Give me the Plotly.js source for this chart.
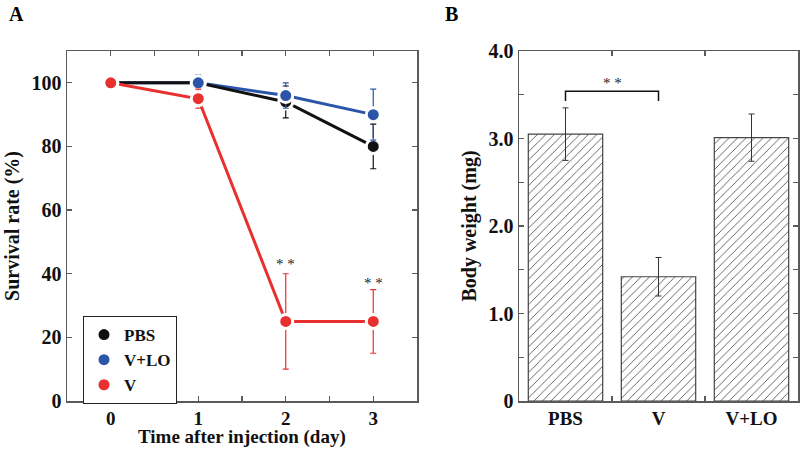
<!DOCTYPE html>
<html>
<head>
<meta charset="utf-8">
<script src="https://cdn.plot.ly/plotly-3.0.1.min.js"></script>
<style>html,body{margin:0;padding:0;background:#fff;}#chart{width:800px;height:449px;}</style>
</head>
<body>
<div id="chart"></div>
<script>
// ---- Panel A data: survival rate (%) ----
const days = [0, 1, 2, 3];
const pbsSurvival = [100, 100, 94, 80];
const pbsErr = [0, 0, 5, 7];
const vloSurvival = [100, 100, 96, 90];
const vloErr = [0, 2.5, 4, 8];
const vSurvival = [100, 95, 25, 25];
const vErr = [0, 3, 15, 10];
const dayTickVals = [0, 0.5, 1, 1.5, 2, 2.5, 3];
const dayTickText = ['0', '', '1', '', '2', '', '3'];
const survTickVals = [0, 20, 40, 60, 80, 100];
const sigDays = [2, 3];
const sigY = [43, 37];
const sigText = ['* *', '* *'];

// ---- Panel B data: body weight (mg) ----
const groups = ['PBS', 'V', 'V+LO'];
const bodyWeight = [3.05, 1.42, 3.01];
const bodyWeightErr = [0.3, 0.22, 0.27];
const weightTickVals = [0, 0.5, 1, 1.5, 2, 2.5, 3, 3.5, 4];
const weightTickText = ['0', '', '1.0', '', '2.0', '', '3.0', '', '4.0'];
const bracketX = ['PBS', 'PBS', 'V', 'V'];
const bracketY = [3.43, 3.54, 3.54, 3.43];
const bracketLabelY = 3.63;

const RED = '#e8312f', BLUE = '#2a55a8', BLACK = '#111111';
const SERIF = 'Liberation Serif, Times New Roman, serif';
const AX = '#5a5a5a';
const titleFont = {family: SERIF, size: 20, color: '#111', weight: 'bold'};

function lineTrace(y, color) {
  return {x: days, y: y, xaxis: 'x', yaxis: 'y', mode: 'lines', showlegend: false,
    line: {color: color, width: 3}, hoverinfo: 'skip'};
}
function markerTrace(name, y, err, color) {
  return {x: days, y: y, xaxis: 'x', yaxis: 'y', mode: 'markers', name: name,
    marker: {color: color, size: 14, line: {color: '#ffffff', width: 3}},
    error_y: {type: 'data', array: err, visible: true, color: color, thickness: 1.2, width: 3}};
}

const traces = [
  lineTrace(vloSurvival, BLUE),
  lineTrace(pbsSurvival, BLACK),
  lineTrace(vSurvival, RED),
  markerTrace('PBS', pbsSurvival, pbsErr, BLACK),
  markerTrace('V+LO', vloSurvival, vloErr, BLUE),
  markerTrace('V', vSurvival, vErr, RED),
  {x: groups, y: bodyWeight, type: 'bar', xaxis: 'x2', yaxis: 'y2', showlegend: false, width: 0.8,
    marker: {color: '#ffffff', line: {color: '#444444', width: 1.2},
      pattern: {shape: '/', fgcolor: '#4a4a4a', bgcolor: '#ffffff', size: 6, solidity: 0.14}},
    error_y: {type: 'data', array: bodyWeightErr, visible: true, color: '#333333', thickness: 1, width: 3}},
  {x: bracketX, y: bracketY, xaxis: 'x2', yaxis: 'y2', mode: 'lines', showlegend: false,
    line: {color: '#111111', width: 1.5}, hoverinfo: 'skip'}
];

const annotations = [
  {text: '<b>A</b>', xref: 'paper', yref: 'paper', x: 16/800, y: 1 - 1/449, showarrow: false,
    font: {family: SERIF, size: 20, color: '#000'}, xanchor: 'center', yanchor: 'top'},
  {text: '<b>B</b>', xref: 'paper', yref: 'paper', x: 451/800, y: 1 - 1/449, showarrow: false,
    font: {family: SERIF, size: 20, color: '#000'}, xanchor: 'center', yanchor: 'top'},
  {text: 'Time after injection (day)', xref: 'paper', yref: 'paper', x: 242/800, y: 0,
    showarrow: false, xanchor: 'center', yanchor: 'bottom', borderpad: 0,
    font: {family: SERIF, size: 19, color: '#111', weight: 'bold'}},
  {text: '* *', xref: 'x2', yref: 'y2', x: 0.5, y: bracketLabelY, showarrow: false,
    font: {family: SERIF, size: 15, color: '#222'}}
];
sigDays.forEach((d, i) => annotations.push({text: sigText[i], xref: 'x', yref: 'y', x: d, y: sigY[i],
  showarrow: false, font: {family: SERIF, size: 15, color: '#222'}}));

const axCommon = {showline: true, linecolor: AX, linewidth: 1.5, mirror: 'ticks', ticks: 'inside',
  ticklen: 5, tickcolor: AX, tickwidth: 1.2, showgrid: false, zeroline: false,
  tickfont: {family: SERIF, size: 20, color: '#111', weight: 'bold'}};
const xTickFont = {family: SERIF, size: 19, color: '#111', weight: 'bold'};

const layout = {
  width: 800, height: 449,
  margin: {l: 0, r: 0, t: 0, b: 0},
  paper_bgcolor: '#ffffff', plot_bgcolor: '#ffffff',
  font: {family: SERIF, color: '#111'},
  showlegend: true,
  legend: {x: 83/800, y: 1 - 316/449, xanchor: 'left', yanchor: 'top', bgcolor: '#ffffff',
    bordercolor: '#222', borderwidth: 1, font: {family: SERIF, size: 17, color: '#111', weight: 'bold'},
    tracegroupgap: 0, itemwidth: 30},
  xaxis: Object.assign({}, axCommon, {domain: [67/800, 417/800], range: [-0.5, 3.5],
    tickmode: 'array', tickvals: dayTickVals, ticktext: dayTickText, tickfont: xTickFont}),
  yaxis: Object.assign({}, axCommon, {domain: [1 - 401/449, 1 - 51/449], range: [0, 110],
    tickmode: 'array', tickvals: survTickVals,
    title: {text: 'Survival rate (%)', font: titleFont, standoff: 6}}),
  xaxis2: Object.assign({}, axCommon, {domain: [519/800, 798/800], anchor: 'y2', range: [-0.5, 2.5],
    type: 'category', tickson: 'boundaries', tickfont: xTickFont}),
  yaxis2: Object.assign({}, axCommon, {domain: [1 - 401/449, 1 - 51/449], anchor: 'x2', range: [0, 4],
    tickmode: 'array', tickvals: weightTickVals, ticktext: weightTickText,
    title: {text: 'Body weight (mg)', font: titleFont, standoff: 6}}),
  annotations: annotations
};

Plotly.newPlot('chart', traces, layout, {displayModeBar: false, staticPlot: true});
</script>
</body>
</html>
